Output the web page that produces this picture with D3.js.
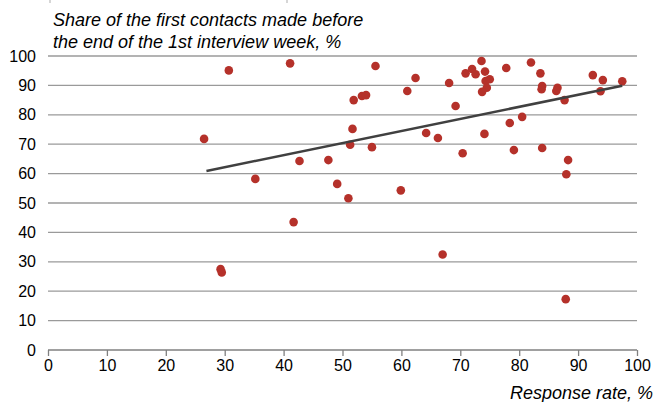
<!DOCTYPE html>
<html>
<head>
<meta charset="utf-8">
<script src="https://cdnjs.cloudflare.com/ajax/libs/d3/7.8.5/d3.min.js"></script>
<style>
  html, body { margin: 0; padding: 0; background: #fff; }
  svg { display: block; }
  text { font-family: "Liberation Sans", Arial, sans-serif; fill: #000; }
</style>
</head>
<body>
<svg id="chart" width="654" height="402"></svg>
<script>
// Response rate, % (x)
const responseRate = [26.5, 29.3, 29.5, 30.7, 35.2, 41.1, 41.7, 42.7, 47.6, 49.1,
  51.0, 51.3, 51.7, 51.9, 53.3, 54.0, 55.0, 55.6, 59.9, 61.0,
  62.4, 64.2, 66.2, 67.0, 68.1, 69.2, 70.4, 70.9, 72.0, 72.6,
  73.6, 74.2, 74.3, 75.0, 74.5, 73.7, 74.1, 77.8, 78.4, 79.1,
  80.5, 82.0, 83.6, 83.9, 83.8, 83.9, 86.5, 86.3, 87.7, 88.3,
  88.0, 87.9, 92.5, 93.8, 94.2, 97.5];
// Share of first contacts made before end of 1st interview week, % (y)
const firstContactShare = [71.8, 27.5, 26.4, 95.1, 58.2, 97.5, 43.5, 64.3, 64.6, 56.5,
  51.6, 69.8, 75.2, 85.0, 86.4, 86.7, 69.0, 96.6, 54.3, 88.1,
  92.5, 73.8, 72.1, 32.5, 90.8, 83.0, 66.9, 94.1, 95.6, 93.8,
  98.3, 94.7, 91.5, 92.1, 89.2, 87.8, 73.5, 95.9, 77.2, 68.0,
  79.3, 97.8, 94.1, 89.8, 88.7, 68.7, 89.2, 88.1, 85.0, 64.6,
  59.8, 17.3, 93.5, 88.0, 91.8, 91.4];
// Linear trend line endpoints
const trendX = [26.9, 97.5];
const trendY = [60.9, 89.9];
// Tick values
const xTicks = [0, 10, 20, 30, 40, 50, 60, 70, 80, 90, 100];
const yTicks = [0, 10, 20, 30, 40, 50, 60, 70, 80, 90, 100];
const titleLines = ["Share of the first contacts made before", "the end of the 1st interview week, %"];
const xTitle = "Response rate, %";

const svg = d3.select("#chart");
const x = d3.scaleLinear().domain([0, 100]).range([48, 637]);
const y = d3.scaleLinear().domain([0, 100]).range([350, 56]);

// faint cropped marks at the very top
svg.append("g").selectAll("line").data([50, 287]).join("line")
  .attr("x1", d => d).attr("x2", d => d).attr("y1", 0).attr("y2", 3)
  .attr("stroke", "#c8c8c8").attr("stroke-width", 1.5);

// gridlines
svg.append("g").selectAll("line").data(yTicks.filter(d => d > 0)).join("line")
  .attr("x1", x(0)).attr("x2", x(100))
  .attr("y1", d => y(d)).attr("y2", d => y(d))
  .attr("stroke", "#9a9a9a").attr("stroke-width", 1.3);

// x axis
const xAxis = d3.axisBottom(x).tickValues(xTicks).tickSize(6).tickPadding(4).tickFormat(d3.format("d"));
const gx = svg.append("g").attr("transform", `translate(0,${y(0)})`).call(xAxis);
gx.select(".domain").attr("stroke", "#808080").attr("stroke-width", 1.3).attr("d", `M${x(0)},0H${x(100)}`);
gx.selectAll(".tick line").attr("stroke", "#808080").attr("stroke-width", 1.3);
gx.selectAll(".tick text").attr("font-size", 16).attr("font-family", "Liberation Sans, Arial, sans-serif").attr("fill", "#000");

// y axis labels
const yAxis = d3.axisLeft(y).tickValues(yTicks).tickSize(0).tickPadding(12).tickFormat(d3.format("d"));
const gy = svg.append("g").attr("transform", `translate(${x(0)},0)`).call(yAxis);
gy.select(".domain").remove();
gy.selectAll(".tick text").attr("font-size", 16).attr("font-family", "Liberation Sans, Arial, sans-serif").attr("fill", "#000");

// points
svg.append("g").selectAll("circle").data(responseRate.map((d, i) => [d, firstContactShare[i]])).join("circle")
  .attr("cx", d => x(d[0])).attr("cy", d => y(d[1])).attr("r", 4.3)
  .attr("fill", "#b5312a");

// trend line
svg.append("line")
  .attr("x1", x(trendX[0])).attr("y1", y(trendY[0]))
  .attr("x2", x(trendX[1])).attr("y2", y(trendY[1]))
  .attr("stroke", "#404040").attr("stroke-width", 2.6);

// titles
svg.append("g").selectAll("text").data(titleLines).join("text")
  .attr("x", 53).attr("y", (d, i) => 26 + i * 22)
  .attr("font-size", 18).attr("font-style", "italic").text(d => d);

svg.append("text").attr("x", 510).attr("y", 399)
  .attr("font-size", 18).attr("font-style", "italic").text(xTitle);
</script>
</body>
</html>
